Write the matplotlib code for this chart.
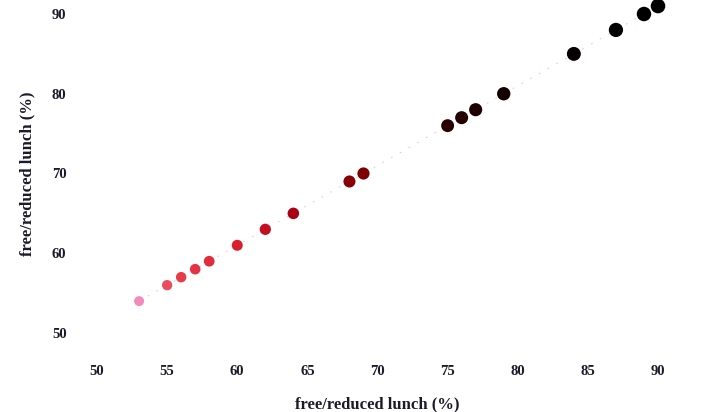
import matplotlib.pyplot as plt
from matplotlib.colors import LinearSegmentedColormap
import numpy as np

# free/reduced lunch, x vs y
lunch_x = [53, 55, 56, 57, 58, 60, 62, 64, 68, 69, 75, 76, 77, 79, 84, 87, 89, 90]
lunch_y = [54, 56, 57, 58, 59, 61, 63, 65, 69, 70, 76, 77, 78, 80, 85, 88, 90, 91]
ticks = [50, 55, 60, 65, 70, 75, 80, 85, 90]
yticks = [50, 60, 70, 80, 90]

plt.rcParams['font.family'] = ['Liberation Serif', 'DejaVu Serif']

cmap = LinearSegmentedColormap.from_list(
    "lunch", [(0.0, "#f08cbc"), (0.06, "#e8404e"), (0.2, "#d81c2c"),
              (0.3, "#a80012"), (0.42, "#820004"), (0.6, "#2a0000"),
              (0.75, "#0a0000"), (1.0, "#000000")])

fig = plt.figure(figsize=(7.1, 4.12), dpi=100)
ax = fig.add_axes([97 / 710, 79 / 412, 561 / 710, 319 / 412])

vals = np.array(lunch_x, dtype=float)
sizes = 52 + (vals - 53) / (90 - 53) * 58

ax.plot(lunch_x, lunch_y, color="#e07090", lw=0.6, ls=(0, (2, 10)), alpha=0.5, zorder=1)
ax.scatter(lunch_x, lunch_y, c=vals, cmap=cmap, vmin=53, vmax=90, s=sizes,
           edgecolors="none", zorder=2, clip_on=False)

ax.set_xlim(50, 90)
ax.set_ylim(50, 90)
ax.set_xticks(ticks)
ax.set_yticks(yticks)
for s in ax.spines.values():
    s.set_visible(False)
ax.tick_params(axis="both", length=0, labelsize=10.5, colors="#1a1a2a")
ax.tick_params(axis="x", pad=23)
ax.tick_params(axis="y", pad=22)
for lab in ax.get_xticklabels() + ax.get_yticklabels():
    lab.set_fontweight("bold")

ax.set_xlabel("free/reduced lunch (%)", fontsize=12, fontweight="bold", labelpad=13,
              color="#1a1a2a")
ax.set_ylabel("free/reduced lunch (%)", fontsize=12, fontweight="bold", labelpad=12,
              color="#1a1a2a")

fig.savefig("out.png", dpi=100)
